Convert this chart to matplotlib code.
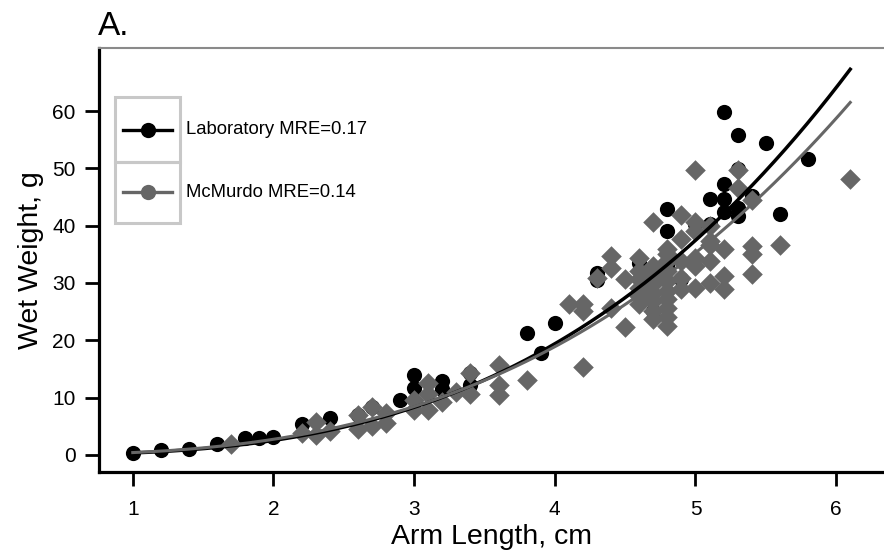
import numpy as np
import matplotlib
matplotlib.use("Agg")
import matplotlib.pyplot as plt
from matplotlib.patches import Rectangle
from matplotlib.lines import Line2D

plt.rcParams['font.family'] = ['Liberation Sans', 'DejaVu Sans']

# laboratory animals (black circles)
lab_len = [1.0, 1.2, 1.4, 1.6, 1.8, 1.9, 2.0, 2.2, 2.4, 2.6, 2.7, 2.9, 3.0, 3.0,
           3.2, 3.2, 3.4, 3.4, 3.8, 3.9, 4.0, 4.3, 4.3, 4.6, 4.7, 4.8, 4.8, 4.8,
           4.9, 5.0, 5.1, 5.1, 5.2, 5.2, 5.2, 5.2, 5.3, 5.3, 5.3, 5.3, 5.4, 5.5,
           5.6, 5.8]
lab_wt = [0.4, 0.9, 1.1, 1.9, 2.9, 2.9, 3.1, 5.3, 6.4, 6.9, 8.3, 9.6, 13.9, 11.6,
          12.8, 11.4, 14.2, 12.2, 21.3, 17.7, 23.0, 31.8, 30.5, 33.4, 25.1, 42.9, 39.0, 33.0,
          30.7, 40.2, 44.6, 40.2, 59.8, 47.3, 44.7, 42.3, 55.8, 49.8, 43.1, 41.6, 45.2, 54.4,
          42.1, 51.7]

# McMurdo animals (grey diamonds)
mcm_len = [1.7, 2.2, 2.3, 2.3, 2.4, 2.6, 2.6, 2.7, 2.7, 2.8, 2.8, 3.0, 3.0, 3.1,
           3.1, 3.1, 3.2, 3.3, 3.4, 3.4, 3.6, 3.6, 3.6, 3.8, 4.1, 4.2, 4.2, 4.2,
           4.3, 4.4, 4.4, 4.4, 4.5, 4.5, 4.6, 4.6, 4.6, 4.6, 4.6, 4.6, 4.7, 4.7,
           4.7, 4.7, 4.7, 4.7, 4.7, 4.7, 4.8, 4.8, 4.8, 4.8, 4.8, 4.8, 4.8, 4.8,
           4.8, 4.8, 4.9, 4.9, 4.9, 4.9, 4.9, 5.0, 5.0, 5.0, 5.0, 5.0, 5.0, 5.1,
           5.1, 5.1, 5.1, 5.1, 5.2, 5.2, 5.2, 5.3, 5.3, 5.4, 5.4, 5.4, 5.4, 5.6,
           6.1]
mcm_wt = [1.8, 3.8, 5.8, 3.5, 4.2, 6.9, 4.5, 8.3, 5.1, 7.3, 5.6, 9.5, 7.8, 12.5,
          10.7, 7.9, 9.2, 10.9, 14.2, 10.7, 15.6, 12.1, 10.4, 13.0, 26.3, 26.3, 25.1, 15.3,
          30.8, 34.7, 32.6, 25.6, 30.7, 22.3, 34.3, 32.1, 30.7, 29.1, 27.7, 26.3, 40.7, 32.9,
          31.2, 29.8, 28.3, 26.9, 25.1, 23.7, 36.0, 35.0, 33.8, 32.0, 30.3, 28.6, 27.2, 25.6,
          24.0, 22.5, 41.9, 37.6, 33.8, 30.8, 29.0, 49.7, 40.7, 39.0, 34.3, 32.9, 29.1, 39.9,
          37.3, 36.7, 33.8, 30.0, 35.9, 31.2, 29.0, 49.7, 46.5, 44.5, 36.4, 35.0, 31.5, 36.7,
          48.2]

# fitted power curves W = a * L^b
lab_fit = (0.3245, 2.95)
mcm_fit = (0.389, 2.80)
fit_range = (1.0, 6.1)

labels = ["Laboratory MRE=0.17", "McMurdo MRE=0.14"]
grey = "#666666"

fig = plt.figure(figsize=(8.84, 5.57), dpi=100)
ax = fig.add_axes([99/884, 1 - 472/557, 785/884, 424/557])

ax.scatter(lab_len, lab_wt, s=120, marker='o', color='black', linewidths=0, zorder=2)
ax.scatter(mcm_len, mcm_wt, s=110, marker='D', color=grey, linewidths=0, zorder=3)

L = np.linspace(fit_range[0], fit_range[1], 200)
ax.plot(L, lab_fit[0] * L ** lab_fit[1], color='black', lw=2.5, zorder=4)
ax.plot(L, mcm_fit[0] * L ** mcm_fit[1], color=grey, lw=2.2, zorder=4)

ax.set_xlim(0.76, 6.34)
ax.set_ylim(-3, 71)
ax.set_xticks([1, 2, 3, 4, 5, 6])
ax.set_yticks([0, 10, 20, 30, 40, 50, 60])
ax.tick_params(axis='both', direction='out', length=10, width=2.0, labelsize=15)
ax.tick_params(axis='x', pad=10)
ax.tick_params(axis='y', pad=7)

ax.spines['right'].set_visible(False)
ax.spines['left'].set_linewidth(2.3)
ax.spines['bottom'].set_linewidth(2.3)
ax.spines['top'].set_color('#8a8a8a')
ax.spines['top'].set_linewidth(1.5)

ax.set_xlabel("Arm Length, cm", fontsize=20.5, labelpad=4)
ax.set_ylabel("Wet Weight, g", fontsize=20.5, labelpad=6)
fig.text(98/884, 1 - 35/557, "A.", fontsize=24, ha='left', va='baseline')

# boxed legend
box_x0, box_x1 = 0.0204, 0.1032
rows = [(0.8844, 0.7311), (0.7311, 0.5873)]
handle_colors = ['black', grey]
for (top, bot), col, lab in zip(rows, handle_colors, labels):
    ax.add_patch(Rectangle((box_x0, bot), box_x1 - box_x0, top - bot,
                           transform=ax.transAxes, fill=False,
                           edgecolor='#c8c8c8', lw=2.2, zorder=5))
    yc = (top + bot) / 2
    ax.add_line(Line2D([0.0306, 0.0930], [yc, yc], transform=ax.transAxes,
                       color=col, lw=2.4, zorder=6))
    ax.add_line(Line2D([0.0624], [yc], transform=ax.transAxes, marker='o',
                       markersize=11, color=col, markeredgewidth=0, zorder=6))
    ax.text(0.1108, yc, lab, transform=ax.transAxes, fontsize=13.3,
            ha='left', va='center', zorder=6)

fig.savefig("out.png", dpi=100)
